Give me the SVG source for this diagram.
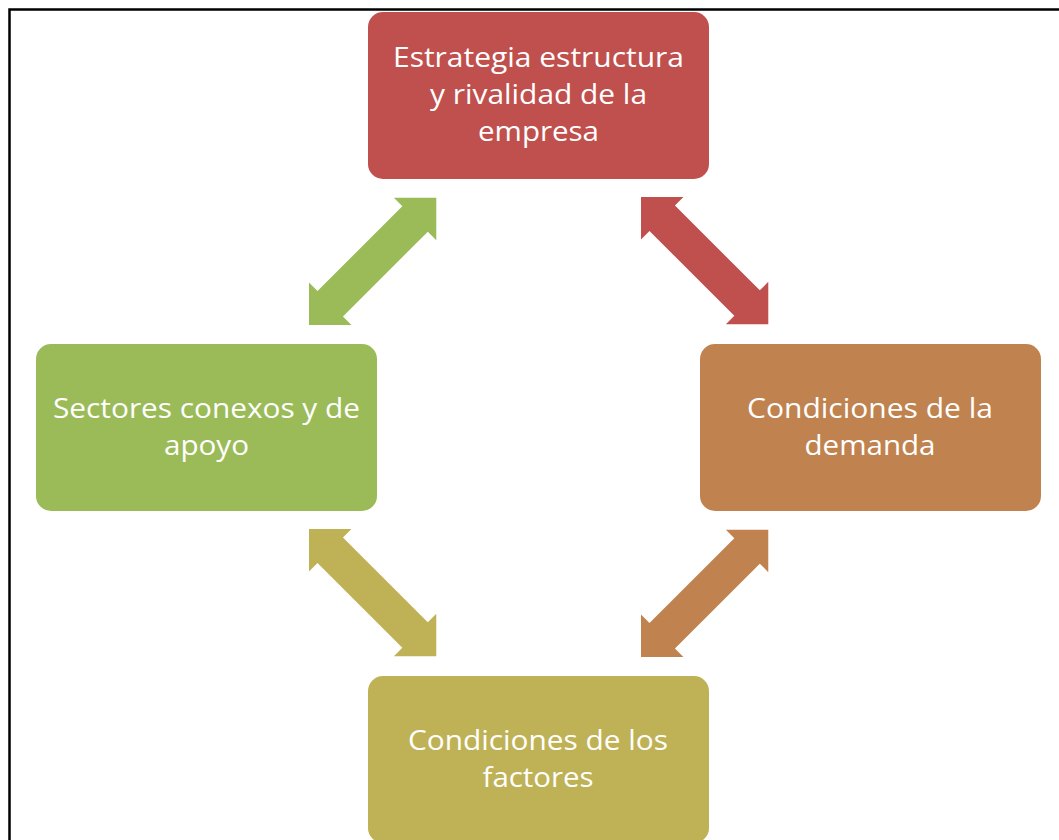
<svg xmlns="http://www.w3.org/2000/svg" width="1059" height="840" viewBox="0 0 1059 840">
<style>
.lbl{font-family:"Open Sans","Noto Sans","Liberation Sans",sans-serif;font-size:28px;fill:#ffffff;text-anchor:middle}
.box{stroke:none}
</style>
<defs>
<polygon id="dblArrow" points="0,0 30,-30 30,-18 150,-18 150,-30 180,0 150,30 150,18 30,18 30,30"/>
</defs>
<rect width="1059" height="840" fill="#ffffff"/>
<path d="M9.5,845 V9.5 H1065" fill="none" stroke="#000000" stroke-width="2.5"/>
<g id="connectors">
<use href="#dblArrow" fill="#9BBB59" transform="translate(309,325) rotate(-45)"/>
<use href="#dblArrow" fill="#C0504D" transform="translate(641,197) rotate(45)"/>
<use href="#dblArrow" fill="#BFB256" transform="translate(309,529) rotate(45)"/>
<use href="#dblArrow" fill="#C0834F" transform="translate(641,657) rotate(-45)"/>
</g>
<g id="node-estrategia">
<rect class="box" x="368" y="12" width="341" height="167" rx="15" fill="#C0504D"/>
<text class="lbl" x="538.5" y="67" textLength="291" lengthAdjust="spacingAndGlyphs">Estrategia estructura</text>
<text class="lbl" x="538.5" y="104" textLength="217" lengthAdjust="spacingAndGlyphs">y rivalidad de la</text>
<text class="lbl" x="538.5" y="141" textLength="121" lengthAdjust="spacingAndGlyphs">empresa</text>
</g>
<g id="node-sectores">
<rect class="box" x="36" y="344" width="341" height="167" rx="15" fill="#9BBB59"/>
<text class="lbl" x="206.5" y="418" textLength="307" lengthAdjust="spacingAndGlyphs">Sectores conexos y de</text>
<text class="lbl" x="206.5" y="455" textLength="85" lengthAdjust="spacingAndGlyphs">apoyo</text>
</g>
<g id="node-demanda">
<rect class="box" x="700" y="344" width="341" height="167" rx="15" fill="#C0834F"/>
<text class="lbl" x="870" y="418" textLength="246" lengthAdjust="spacingAndGlyphs">Condiciones de la</text>
<text class="lbl" x="870" y="455" textLength="131" lengthAdjust="spacingAndGlyphs">demanda</text>
</g>
<g id="node-factores">
<rect class="box" x="368" y="676" width="341" height="167" rx="15" fill="#BFB256"/>
<text class="lbl" x="538" y="750" textLength="260" lengthAdjust="spacingAndGlyphs">Condiciones de los</text>
<text class="lbl" x="538" y="787" textLength="111" lengthAdjust="spacingAndGlyphs">factores</text>
</g>
</svg>
